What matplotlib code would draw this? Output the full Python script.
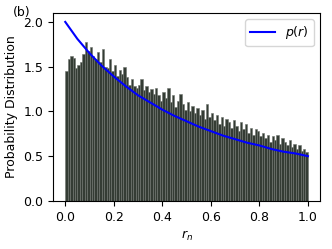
import matplotlib
matplotlib.use("Agg")
import matplotlib.pyplot as plt
import numpy as np

# histogram bin heights (100 bins over [0, 1])
hist_heights = [
    1.45, 1.58, 1.62, 1.60, 1.48, 1.52, 1.55, 1.64, 1.78, 1.68,
    1.72, 1.62, 1.58, 1.66, 1.55, 1.70, 1.50, 1.48, 1.58, 1.45,
    1.52, 1.40, 1.46, 1.42, 1.50, 1.38, 1.30, 1.36, 1.28, 1.26,
    1.30, 1.36, 1.24, 1.28, 1.22, 1.25, 1.20, 1.26, 1.18, 1.12,
    1.22, 1.15, 1.26, 1.10, 1.18, 1.05, 1.12, 1.20, 1.08, 1.02,
    1.10, 1.00, 1.06, 0.98, 1.04, 0.96, 1.02, 0.92, 1.08, 0.94,
    0.98, 0.90, 0.96, 0.86, 0.94, 0.84, 0.92, 0.88, 0.82, 0.90,
    0.84, 0.78, 0.88, 0.80, 0.86, 0.76, 0.82, 0.74, 0.80, 0.78,
    0.72, 0.76, 0.70, 0.74, 0.66, 0.72, 0.68, 0.74, 0.64, 0.70,
    0.66, 0.62, 0.68, 0.60, 0.64, 0.58, 0.62, 0.56, 0.58, 0.55,
]
bin_edges = np.linspace(0.0, 1.0, len(hist_heights) + 1)

# p(r) curve values
curve_r = [0.0, 0.05, 0.1, 0.15, 0.2, 0.25, 0.3, 0.35, 0.4, 0.45, 0.5,
           0.55, 0.6, 0.65, 0.7, 0.75, 0.8, 0.85, 0.9, 0.95, 1.0]
curve_p = [2.00, 1.81, 1.65, 1.51, 1.39, 1.28, 1.18, 1.10, 1.02, 0.95, 0.89,
           0.83, 0.78, 0.73, 0.69, 0.65, 0.62, 0.58, 0.55, 0.53, 0.50]

fig = plt.figure(figsize=(3.32, 2.49), dpi=100)
ax = fig.add_axes([0.160, 0.193, 0.804, 0.755])

ax.bar(bin_edges[:-1], hist_heights, width=np.diff(bin_edges), align='edge',
       facecolor='#343c34', edgecolor='#6f756f', linewidth=0.4)
ax.plot(curve_r, curve_p, color='blue', linewidth=1.5, label=r'$p(r)$')

ax.set_xlim(-0.05, 1.05)
ax.set_ylim(0, 2.1)
ax.set_xticks([0.0, 0.2, 0.4, 0.6, 0.8, 1.0])
ax.set_yticks([0.0, 0.5, 1.0, 1.5, 2.0])
ax.tick_params(labelsize=9)
ax.set_xlabel(r'$r_n$', fontsize=9)
ax.set_ylabel('Probability Distribution', fontsize=9)
ax.legend(loc='upper right', fontsize=9)
fig.text(0.04, 0.975, '(b)', fontsize=9, va='top')

fig.savefig('out.png', dpi=100)
